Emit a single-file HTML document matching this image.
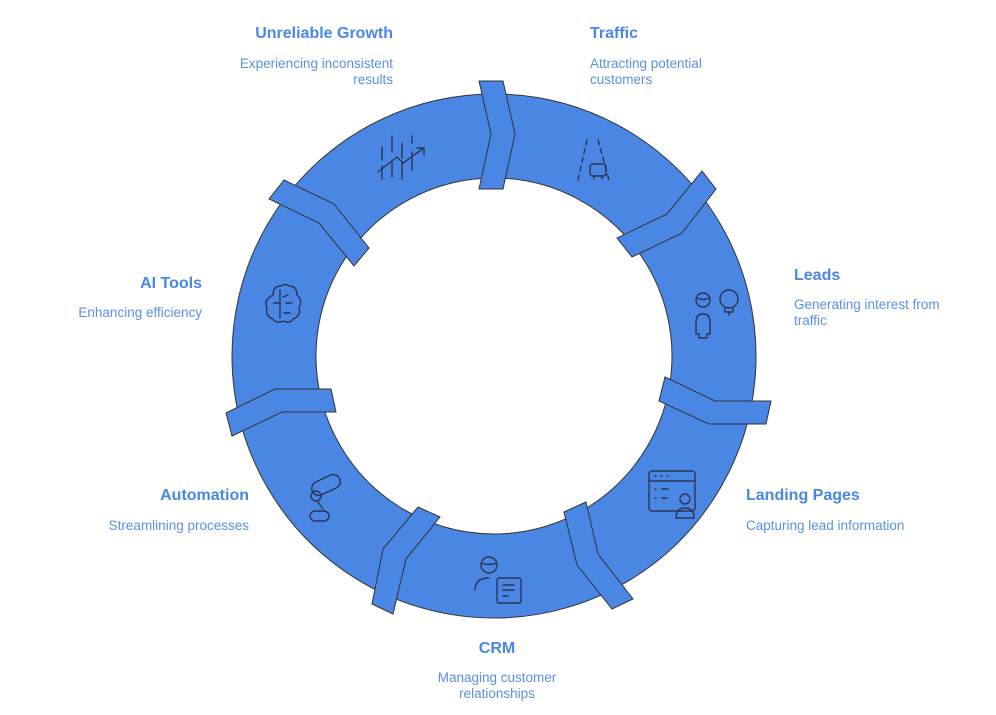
<!DOCTYPE html>
<html><head><meta charset="utf-8"><style>
html,body{margin:0;padding:0;background:#fff;}
svg{display:block}
.t{font-family:"Liberation Sans",sans-serif;font-weight:bold;font-size:16px;fill:#4a86e8}
.d{font-family:"Liberation Sans",sans-serif;font-size:13.5px;fill:#5b8fe6}
.i{fill:none;stroke:#2a3550;stroke-width:1.4;stroke-linecap:round;stroke-linejoin:round}
</style></head><body>
<svg width="996" height="715" viewBox="0 0 996 715">
<path fill-rule="evenodd" fill="#4a86e4" stroke="#333" stroke-width="1" d="M494,94 a262,262 0 1,0 0.01,0 Z M494,178 a178,178 0 1,1 -0.01,0 Z"/>
<g fill="#4a86e4" stroke="#333" stroke-width="1">
<polygon points="479,81 503,81 515,134 503,189 479,189 491,134"/>
<polygon points="702,171 716,189 682,233 632,257 617,238 667,214"/>
<polygon points="665,377 715,401 771,401 766,424 709,424 659,401"/>
<polygon points="564,512 586,502 598,554 633,599 612,609 577,565"/>
<polygon points="418,507 440,517 406,559 393,614 372,604 383,549"/>
<polygon points="226,413 275,389 331,389 336,412 282,412 232,436"/>
<polygon points="269,199 284,180 334,204 369,248 354,266 319,223"/>
</g>
<g class="i">
<path d="M382,147v13M392,136v16M402,143v15M412,136v7M412,158v12M382,166v13M392,163v14M402,162v17M412,152v6"/>
<path d="M378,172l19,-15l6,6l21,-15M417,148h7v7"/>
<path d="M587,140l-9,40M598,140l11,40" stroke-dasharray="5,4"/>
<rect x="590" y="164" width="16" height="12" rx="3"/><path d="M594,176v3M602,176v3"/>
<circle cx="703" cy="300" r="7"/><path d="M697,298q6,3 12,0"/>
<path d="M696,334v-12q0,-8 7,-8q7,0 7,8v12h-3v4h-8v-4z"/>
<circle cx="729" cy="299" r="9"/><path d="M725,308v4h8v-4M729,312v3"/>
<rect x="649" y="471" width="46" height="40" rx="3"/><path d="M649,481h46M655,476h1M661,476h1M667,476h1M655,489h1M662,489h6M655,498h1M662,498h5"/>
<circle cx="685" cy="499" r="5"/><path d="M676,518q0,-10 9,-10q9,0 9,10z"/>
<circle cx="489" cy="565" r="8"/><path d="M481,563q8,3 16,0M475,590q0,-12 14,-12"/>
<rect x="497" y="578" width="24" height="25" rx="2"/><path d="M503,585h11M503,590h11M503,596h5"/>
<rect x="311" y="478" width="30" height="14" rx="7" transform="rotate(-25 326 485)"/>
<circle cx="316" cy="496" r="5"/><path d="M318,502l5,7"/><rect x="310" y="511" width="19" height="10" rx="5"/>
<path d="M273,295q0,-9 8,-9q4,-3 8,0q8,0 8,9q6,5 2,13q2,8 -6,11q-3,5 -10,2q-6,3 -10,-2q-8,-3 -6,-11q-4,-8 6,-13z"/>
<path d="M280,290v28M274,303h6M286,303h6M283,297l5,-2M284,313l6,0"/>
</g>
<text class="t" x="393" y="38" text-anchor="end">Unreliable Growth</text>
<text class="d" x="393" y="68" text-anchor="end">Experiencing inconsistent</text>
<text class="d" x="393" y="84" text-anchor="end">results</text>
<text class="t" x="590" y="38">Traffic</text>
<text class="d" x="590" y="68">Attracting potential</text>
<text class="d" x="590" y="84">customers</text>
<text class="t" x="794" y="280">Leads</text>
<text class="d" x="794" y="309">Generating interest from</text>
<text class="d" x="794" y="325">traffic</text>
<text class="t" x="746" y="500">Landing Pages</text>
<text class="d" x="746" y="530">Capturing lead information</text>
<text class="t" x="497" y="653" text-anchor="middle">CRM</text>
<text class="d" x="497" y="682" text-anchor="middle">Managing customer</text>
<text class="d" x="497" y="698" text-anchor="middle">relationships</text>
<text class="t" x="249" y="500" text-anchor="end">Automation</text>
<text class="d" x="249" y="530" text-anchor="end">Streamlining processes</text>
<text class="t" x="202" y="288" text-anchor="end">AI Tools</text>
<text class="d" x="202" y="317" text-anchor="end">Enhancing efficiency</text>
</svg>
</body></html>
